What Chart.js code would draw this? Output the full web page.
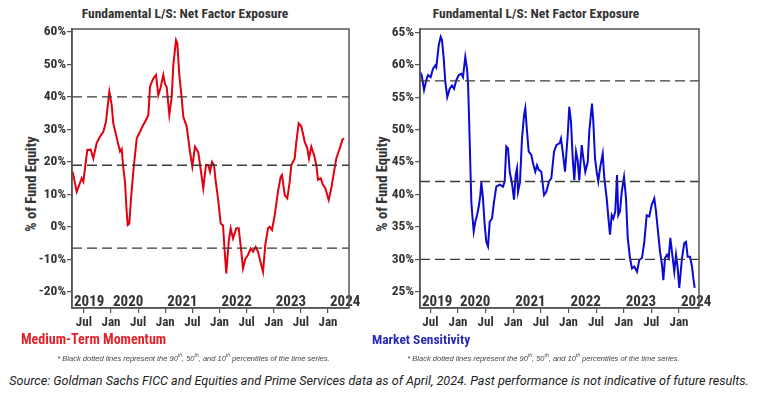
<!DOCTYPE html>
<html>
<head>
<meta charset="utf-8">
<script src="https://cdn.jsdelivr.net/npm/chart.js@4.4.1/dist/chart.umd.min.js"></script>
<style>
  body { margin: 0; width: 758px; height: 395px; background: #fff; position: relative; overflow: hidden; }
  .narrow { font-family: "Liberation Sans Narrow", "Roboto Condensed", "DejaVu Sans Condensed", sans-serif; font-weight: bold; }
  .abs { position: absolute; white-space: nowrap; }
  .chartBox { position: absolute; top: 0; height: 335px; }
  .title { top: 5px; font-size: 13.5px; color: #333; text-align: center; }
  .ytitle { font-size: 14.5px; color: #333; transform: translate(-50%, -50%) rotate(-90deg); }
  .note { top: 352px; font-size: 7.5px; font-style: italic; color: #444; font-family: "Liberation Sans", Arial, sans-serif; text-align: center; }
  .note sup { font-size: 5px; }
  .factor { top: 331px; font-size: 14px; }
  #source { top: 373px; left: 0; width: 758px; text-align: center; font-family: Roboto, "Liberation Sans", sans-serif; font-style: italic; font-size: 12.6px; color: #222; }
</style>
</head>
<body>
<div class="abs narrow title" style="left:0;width:370px">Fundamental L/S: Net Factor Exposure</div>
<div class="abs narrow title" style="left:386px;width:300px">Fundamental L/S: Net Factor Exposure</div>
<div class="abs narrow ytitle" style="left:31px;top:184px">% of Fund Equity</div>
<div class="abs narrow ytitle" style="left:382px;top:184px">% of Fund Equity</div>

<div class="chartBox" style="left:0;width:380px"><canvas id="momentumChart"></canvas></div>
<div class="chartBox" style="left:370px;width:388px"><canvas id="sensitivityChart"></canvas></div>

<div class="abs narrow factor" style="left:21px;color:#e2232a">Medium-Term Momentum</div>
<div class="abs narrow factor" style="left:372px;color:#2b2bb8;font-size:13.5px">Market Sensitivity</div>
<div class="abs note" style="left:40px;width:307px">* Black dotted lines represent the 90<sup>th</sup>, 50<sup>th</sup>, and 10<sup>th</sup> percentiles of the time series.</div>
<div class="abs note" style="left:390px;width:307px">* Black dotted lines represent the 90<sup>th</sup>, 50<sup>th</sup>, and 10<sup>th</sup> percentiles of the time series.</div>
<div id="source" class="abs">Source: Goldman Sachs FICC and Equities and Prime Services data as of April, 2024. Past performance is not indicative of future results.</div>

<script>
// dates as decimal years, values in % of fund equity
const momentumDates = [
  2019.294, 2019.368, 2019.46, 2019.49, 2019.563, 2019.626, 2019.674, 2019.736, 2019.797, 2019.858,
  2019.908, 2019.969, 2020.013, 2020.042, 2020.105, 2020.166, 2020.197, 2020.227, 2020.258, 2020.289,
  2020.308, 2020.337, 2020.369, 2020.411, 2020.474, 2020.535, 2020.566, 2020.595, 2020.658, 2020.688,
  2020.719, 2020.780, 2020.829, 2020.872, 2020.916, 2020.964, 2020.995, 2021.027, 2021.075, 2021.119,
  2021.148, 2021.198, 2021.222, 2021.259, 2021.303, 2021.333, 2021.395, 2021.456, 2021.499, 2021.548,
  2021.609, 2021.659, 2021.701, 2021.751, 2021.794, 2021.825, 2021.862, 2021.900, 2021.923, 2021.972,
  2022.022, 2022.065, 2022.096, 2022.125, 2022.170, 2022.206, 2022.249, 2022.310, 2022.354, 2022.402,
  2022.433, 2022.476, 2022.525, 2022.575, 2022.618, 2022.667, 2022.710, 2022.770, 2022.802, 2022.844,
  2022.894, 2022.925, 2022.968, 2023.018, 2023.078, 2023.128, 2023.152, 2023.202, 2023.250, 2023.294,
  2023.324, 2023.386, 2023.416, 2023.460, 2023.508, 2023.571, 2023.618, 2023.650, 2023.692, 2023.742,
  2023.784, 2023.816, 2023.865, 2023.908, 2023.950, 2023.987, 2024.013, 2024.061, 2024.111, 2024.153,
  2024.216, 2024.264, 2024.295
];
const momentumValues = [
  17.0, 10.8, 15.0, 14.0, 23.7, 23.8, 21.1, 25.8, 27.8, 29.3,
  32.4, 41.6, 37.5, 31.9, 27.5, 23.2, 24.0, 18.1, 13.9, 4.7,
  0.6, 1.0, 8.8, 17.0, 27.3, 29.3, 30.4, 31.4, 33.4, 34.4,
  43.2, 45.7, 46.8, 40.6, 43.0, 46.8, 44.0, 43.0, 34.5, 40.0,
  49.8, 57.5, 56.5, 46.8, 39.6, 33.9, 30.9, 23.2, 18.6, 24.7,
  23.0, 17.0, 11.9, 19.1, 19.0, 17.0, 20.0, 19.0, 15.0, 8.8,
  1.1, 0.5, -7.6, -14.3, -4.5, -0.4, -3.5, -0.4, -0.4, -7.6,
  -12.7, -9.8, -8.6, -6.6, -7.6, -6.1, -7.6, -11.7, -13.8, -5.5,
  -0.4, 0.1, -0.9, 3.7, 10.9, 15.5, 16.0, 9.8, 8.8, 13.9,
  19.1, 21.1, 26.2, 31.9, 31.0, 26.2, 24.2, 21.1, 24.7, 22.2,
  19.1, 14.5, 15.0, 12.9, 12.0, 9.8, 8.3, 11.9, 17.0, 21.1,
  24.2, 26.8, 27.3
];
const momentumPercentiles = [40, 19, -6.5];

const sensitivityDates = [
  2019.307, 2019.343, 2019.385, 2019.426, 2019.457, 2019.506, 2019.548, 2019.589, 2019.607, 2019.651,
  2019.687, 2019.710, 2019.741, 2019.770, 2019.806, 2019.850, 2019.891, 2019.928, 2019.969, 2020.013,
  2020.060, 2020.090, 2020.132, 2020.163, 2020.181, 2020.199, 2020.223, 2020.241, 2020.259, 2020.284,
  2020.313, 2020.344, 2020.375, 2020.404, 2020.422, 2020.452, 2020.483, 2020.512, 2020.543, 2020.574,
  2020.615, 2020.652, 2020.693, 2020.755, 2020.814, 2020.845, 2020.874, 2020.905, 2020.936, 2020.977,
  2021.014, 2021.044, 2021.068, 2021.086, 2021.122, 2021.158, 2021.195, 2021.218, 2021.249, 2021.280,
  2021.327, 2021.357, 2021.399, 2021.430, 2021.461, 2021.508, 2021.557, 2021.598, 2021.647, 2021.689,
  2021.738, 2021.780, 2021.841, 2021.864, 2021.895, 2021.937, 2021.986, 2022.014, 2022.045, 2022.076,
  2022.105, 2022.136, 2022.166, 2022.195, 2022.239, 2022.268, 2022.304, 2022.348, 2022.376, 2022.425,
  2022.449, 2022.480, 2022.510, 2022.539, 2022.570, 2022.619, 2022.648, 2022.691, 2022.728, 2022.751,
  2022.782, 2022.811, 2022.847, 2022.878, 2022.901, 2022.932, 2022.963, 2023.005, 2023.041, 2023.072,
  2023.113, 2023.149, 2023.191, 2023.240, 2023.281, 2023.330, 2023.372, 2023.415, 2023.462, 2023.506,
  2023.553, 2023.584, 2023.614, 2023.656, 2023.692, 2023.716, 2023.747, 2023.783, 2023.814, 2023.843,
  2023.886, 2023.915, 2023.946, 2023.977, 2024.005, 2024.054, 2024.096, 2024.127, 2024.157, 2024.199,
  2024.235, 2024.259, 2024.284
];
const sensitivityValues = [
  58.9, 58.4, 56.1, 57.6, 58.4, 58.1, 59.4, 59.9, 59.6, 63.0,
  64.3, 63.8, 61.0, 57.4, 55.0, 56.3, 56.8, 56.3, 57.6, 58.4,
  58.6, 58.1, 61.2, 59.4, 57.1, 52.2, 44.5, 38.9, 36.8, 34.3,
  35.8, 36.8, 38.1, 39.9, 41.9, 39.4, 35.3, 32.7, 32.0, 35.8,
  36.3, 38.9, 41.2, 41.5, 41.2, 42.0, 47.4, 47.1, 43.5, 41.7,
  39.2, 43.0, 44.0, 40.4, 41.9, 48.6, 52.2, 53.3, 49.7, 46.6,
  46.1, 44.8, 43.5, 44.5, 43.8, 43.5, 39.9, 40.4, 42.0, 42.5,
  46.6, 47.6, 47.9, 48.6, 46.6, 43.5, 49.2, 53.5, 51.2, 45.6,
  42.2, 46.6, 45.3, 42.2, 47.6, 45.6, 43.5, 45.0, 49.7, 54.0,
  51.2, 45.6, 43.5, 42.0, 44.0, 46.3, 42.5, 39.4, 35.8, 33.8,
  36.8, 36.3, 37.4, 43.0, 36.8, 37.4, 40.4, 42.7, 39.4, 33.3,
  30.2, 28.6, 28.9, 28.1, 29.9, 30.2, 32.7, 36.8, 36.6, 38.4,
  39.4, 37.4, 34.8, 31.2, 29.2, 26.8, 30.2, 30.7, 30.2, 33.3,
  30.2, 28.1, 30.7, 28.6, 25.6, 30.2, 32.5, 32.7, 30.4, 30.4,
  28.9, 27.1, 25.6
];
const sensitivityPercentiles = [57.5, 42, 30];

const momentumTicks = [-20, -10, 0, 10, 20, 30, 40, 50, 60];
const sensitivityTicks = [25, 30, 35, 40, 45, 50, 55, 60, 65];
const halfYearTicks = [2019.5, 2020, 2020.5, 2021, 2021.5, 2022, 2022.5, 2023, 2023.5, 2024];
const halfYearLabels = ["Jul", "Jan", "Jul", "Jan", "Jul", "Jan", "Jul", "Jan", "Jul", "Jan"];
const yearLabels = ["2019", "2020", "2021", "2022", "2023", "2024"];

const narrowFont = "'Liberation Sans Narrow', 'Roboto Condensed', 'DejaVu Sans Condensed', sans-serif";
const axisColor = "#555";

// box around the plot area
const framePlugin = {
  id: "frame",
  afterDraw(chart) {
    const a = chart.chartArea;
    const ctx = chart.ctx;
    ctx.save();
    ctx.strokeStyle = axisColor;
    ctx.lineWidth = 1.5;
    ctx.strokeRect(a.left, a.top, a.right - a.left, a.bottom - a.top);
    ctx.restore();
  },
};

// year names written inside the plot, just above the bottom edge
const yearPlugin = {
  id: "years",
  afterDatasetsDraw(chart) {
    const xs = chart.scales.x;
    const a = chart.chartArea;
    const ctx = chart.ctx;
    ctx.save();
    ctx.font = "bold 15px " + narrowFont;
    ctx.fillStyle = "#333";
    ctx.textAlign = "left";
    ctx.textBaseline = "alphabetic";
    yearLabels.forEach((y) => {
      const px = Math.max(xs.getPixelForValue(Number(y)), a.left) + 2;
      ctx.fillText(y, px, a.bottom - 2);
    });
    ctx.restore();
  },
};

function makeChart(id, dates, values, percentiles, color, yTicks, yMin, yMax, xMin, xMax, yWidth, padRight) {
  const datasets = percentiles.map((p) => ({
    data: [{ x: xMin, y: p }, { x: xMax, y: p }],
    borderColor: "#3a3a3a",
    borderWidth: 1.3,
    borderDash: [10, 5],
    pointRadius: 0,
  }));
  datasets.push({
    data: dates.map((d, i) => ({ x: d, y: values[i] })),
    borderColor: color,
    borderWidth: 2,
    pointRadius: 0,
    tension: 0,
  });

  return new Chart(document.getElementById(id), {
    type: "line",
    data: { datasets: datasets },
    options: {
      responsive: true,
      maintainAspectRatio: false,
      animation: false,
      devicePixelRatio: 1,
      layout: { padding: { top: 29, right: padRight, left: 0, bottom: 0 } },
      plugins: { legend: { display: false }, tooltip: { enabled: false }, title: { display: false } },
      scales: {
        x: {
          type: "linear",
          min: xMin,
          max: xMax,
          afterBuildTicks: (axis) => { axis.ticks = halfYearTicks.map((v) => ({ value: v })); },
          afterFit: (axis) => { axis.height = 27; },
          ticks: {
            autoSkip: false,
            maxRotation: 0,
            padding: 2,
            color: "#333",
            font: { family: narrowFont, size: 13, weight: "bold" },
            callback: (v, i) => halfYearLabels[i],
          },
          grid: { drawOnChartArea: false, tickLength: 5, color: axisColor, lineWidth: 1.2 },
          border: { display: true, color: axisColor, width: 1.5 },
        },
        y: {
          min: yMin,
          max: yMax,
          afterBuildTicks: (axis) => { axis.ticks = yTicks.map((v) => ({ value: v })); },
          afterFit: (axis) => { axis.width = yWidth; },
          ticks: {
            padding: 1,
            color: "#333",
            font: { family: narrowFont, size: 13.5, weight: "bold" },
            callback: (v) => v + "%",
          },
          grid: { drawOnChartArea: false, tickLength: 5, color: axisColor, lineWidth: 1.2 },
          border: { display: true, color: axisColor, width: 1.5 },
        },
      },
    },
    plugins: [framePlugin, yearPlugin],
  });
}

makeChart("momentumChart", momentumDates, momentumValues, momentumPercentiles, "#e3000f",
  momentumTicks, -24.9, 60.9, 2019.281, 2024.387, 72, 31);
makeChart("sensitivityChart", sensitivityDates, sensitivityValues, sensitivityPercentiles, "#0a0ad2",
  sensitivityTicks, 22.5, 65.5, 2019.312, 2024.362, 50, 59);
</script>
</body>
</html>
